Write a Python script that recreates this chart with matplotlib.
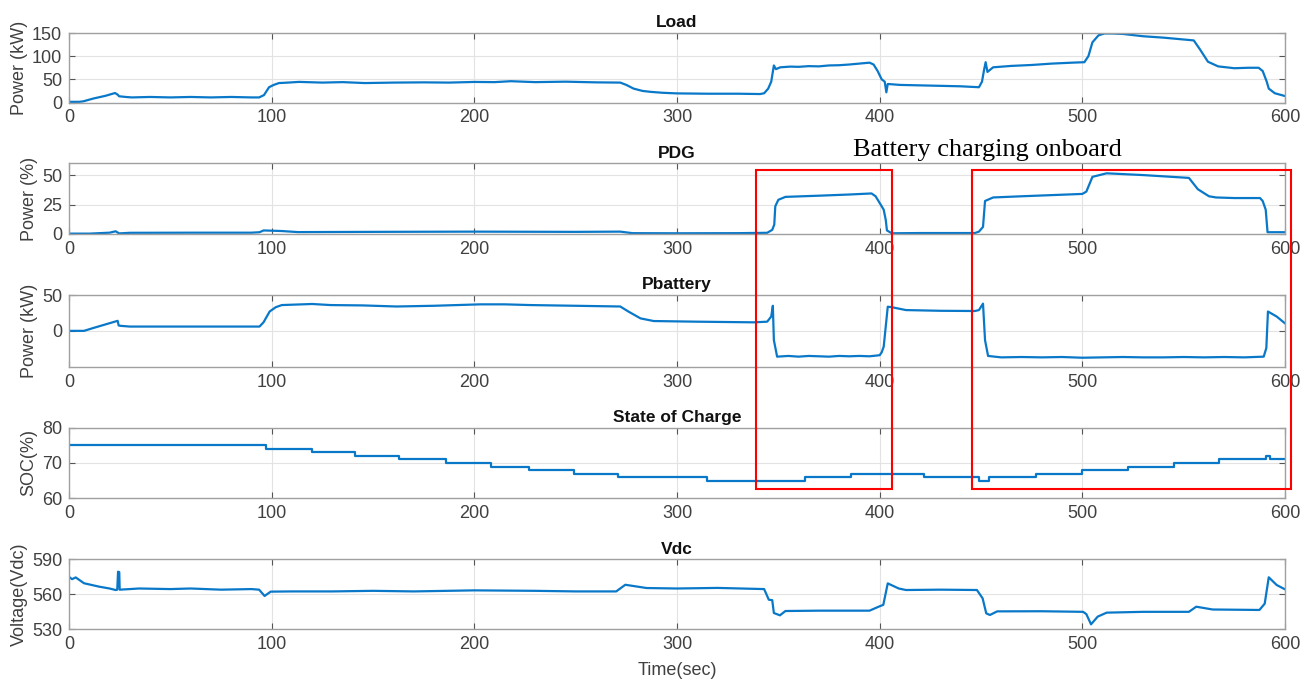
import matplotlib
matplotlib.use('Agg')
import matplotlib.pyplot as plt
from matplotlib.patches import Rectangle

# Values (time in s)
load_t = [0, 5, 7, 12, 18, 22.7, 24, 24.7, 28, 31, 40, 50, 60, 70, 80, 90, 93.8, 96.2, 98.7, 101,
          103.6, 108, 113.5, 125, 135, 146, 160, 175, 187.5, 200, 210, 218, 230, 245, 260, 272, 275,
          278.6, 283, 287, 293, 300, 315, 330, 341, 343, 345, 346.5, 347.8, 348.8, 351, 356, 360, 365,
          370, 375, 380, 385, 390, 395, 397, 399, 401, 402.5, 403.3, 404, 410, 420, 430, 440, 449,
          450.5, 451.5, 452.3, 453.2, 456, 465, 475, 485, 495, 501, 503, 505, 508, 511, 515, 520, 530,
          540, 550, 555, 558, 562, 567, 575, 582, 587, 589, 591, 592, 595, 600]
load_kw = [1.5, 1.5, 2.5, 8.6, 14.5, 20.5, 17, 13.5, 12, 11, 12, 11, 12, 11, 12, 11, 11, 16, 33, 38,
           42, 43, 44.5, 43, 44, 42, 43, 43.5, 43, 44.4, 44, 46, 44, 45, 43.5, 43, 38,
           30, 25, 23, 21, 19.7, 19, 19, 18.3, 20, 30, 45, 80, 72, 76, 77.5, 77, 78.5,
           78, 80, 80.5, 82, 84, 86, 82, 68, 50, 45, 22, 40, 38, 37, 36, 35, 33,
           45, 70, 87, 66, 76, 79, 81, 84, 86, 87, 100, 130, 145, 149, 149, 148, 143,
           140, 136, 134, 115, 88, 78, 74, 75, 75, 68, 45, 30, 20, 14]

pdg_t = [0, 10, 20, 23, 24.7, 30, 60, 90, 94, 96, 100, 105, 113, 150, 200, 250, 272, 278, 300, 330,
         344.5, 347, 348, 348.5, 350, 353.5, 370, 385, 396, 398, 401, 402, 403, 403.6, 406, 420, 447,
         449, 451, 452, 456, 470, 485, 500, 502, 505, 512, 530, 552.6, 557, 562.5, 566, 575, 587.7,
         589, 590.5, 591.4, 600]
pdg_pct = [0.3, 0.3, 1.1, 2.3, 0.5, 1.0, 1.1, 1.1, 1.5, 3, 2.8, 2.5, 1.6, 1.8, 2, 1.8, 2, 0.7, 0.6, 0.7,
           1, 3.5, 8, 23.5, 29, 31.5, 32.5, 33.5, 34.4, 32, 23.5, 20.6, 12, 3, 0.6, 0.8, 0.8,
           2, 6, 28, 31, 32, 33, 34, 36, 48.5, 51.5, 50, 47.6, 38, 32, 31, 30.5, 30.5,
           28, 20.6, 1.5, 1.5]

batt_t = [0, 7.4, 12, 18, 24, 24.5, 25.5, 30, 50, 70, 94, 96, 99, 102, 105, 120, 129, 145, 161.6, 180,
          203, 215, 227.5, 250, 272, 276, 282, 288.5, 310, 338, 344.5, 346.5, 347.3, 347.8, 349.4,
          355, 360, 365, 370, 375, 380, 385, 390, 395, 400, 401, 402, 404, 406, 413, 430, 447, 449,
          451, 452, 453.5, 460, 470, 480, 490, 500, 510, 520, 530, 540, 550, 560, 570, 580, 589.5,
          590.8, 591.6, 595.9, 600]
batt_kw = [0, 0, 4, 9, 14, 7.5, 7, 6, 6, 6, 6, 12, 27, 33, 36, 37.5, 36, 35.5, 34, 35,
           37, 37, 36, 35, 34, 27, 17.4, 13.7, 12.8, 11.9, 12.8, 20, 35, -12.8, -36,
           -35, -36, -35, -35.5, -36, -35, -35.5, -35, -35.5, -34, -30, -22, 33.7, 33, 29, 28, 27.7, 29,
           38, -13, -35, -37, -36.5, -37, -36.5, -37.5, -37, -36.5, -37, -37, -36.5, -37, -36.5, -37, -36,
           -24, 27, 20, 10.5]

soc_t = [0, 97, 120, 141, 163, 186, 208, 227, 249, 271, 315, 363, 386, 422, 449, 454, 477, 500,
         522.5, 545, 567.6, 590.5, 592.5, 600]
soc_pct = [75, 74, 73, 72, 71, 70, 69, 68, 67, 66, 65, 66, 67, 66, 65, 66, 67, 68,
           69, 70, 71, 72, 71, 71]

vdc_t = [0, 1.5, 3.3, 7.4, 14.8, 20, 23, 23.8, 24.2, 24.8, 25, 30, 34.5, 50, 60, 75, 90, 93.8, 96.5,
         99.5, 110, 130, 150, 170, 200, 230, 250, 270, 274.5, 285, 300, 320, 343, 345.3, 347, 347.8,
         350.8, 353.5, 370, 395, 399.5, 401.8, 404, 409.4, 413, 430, 448, 450.8, 452.6, 454.4, 458,
         480, 500.4, 502, 504.3, 507.6, 512, 530, 552.6, 556.2, 564.3, 587.4, 590, 592, 595.9, 600]
vdc_v = [575, 573, 574.5, 569.5, 566.6, 565, 563.7, 564, 579.4, 579, 564, 564.5, 565, 564.5, 565, 564,
         564.5, 564, 558.6, 562.3, 562.5, 562.5, 563, 562.5, 563.4, 563, 562.5, 562.5, 568.2, 565.4,
         565, 565.5, 564.5, 555.4, 555, 544, 542, 545.7, 546, 546, 549.4, 551, 569.4, 565, 563.7,
         564, 563.7, 556.6, 543.7, 542.3, 545.4, 545.5, 545, 543, 534.3, 540.9, 544.3, 545, 545,
         549.4, 547, 546.6, 552, 574.6, 568, 564.3]

LINE_COLOR = '#0A78C8'
TEXT_COLOR = '#404040'

plt.rcParams['font.family'] = ['Liberation Sans', 'DejaVu Sans']


def style_axes(ax, title, ylabel, ylim, yticks):
    ax.set_xlim(0, 600)
    ax.set_ylim(*ylim)
    ax.set_xticks(range(0, 601, 100))
    ax.set_yticks(yticks)
    ax.grid(True, color='#e3e3e3', linewidth=0.8)
    ax.set_axisbelow(True)
    ax.tick_params(direction='in', top=True, right=True, length=4, width=0.8,
                   color='#555555', labelcolor=TEXT_COLOR, labelsize=13, pad=5)
    for sp in ax.spines.values():
        sp.set_color('#a0a0a0')
        sp.set_linewidth(1.0)
    ax.set_title(title, fontsize=12.5, fontweight='bold', color='#111111', pad=4)
    ax.set_ylabel(ylabel, fontsize=13, color=TEXT_COLOR, labelpad=3)


fig = plt.figure(figsize=(13.12, 6.89), dpi=100)

left, width = 0.0526, 0.9268
positions = [0.8512, 0.6604, 0.4678, 0.2768, 0.0866]
heights = [0.1009, 0.1026, 0.1040, 0.1025, 0.1016]
axes = [fig.add_axes([left, y0, width, h]) for y0, h in zip(positions, heights)]

axes[0].plot(load_t, load_kw, color=LINE_COLOR, lw=1.6)
style_axes(axes[0], 'Load', 'Power (kW)', (0, 150), [0, 50, 100, 150])

axes[1].plot(pdg_t, pdg_pct, color=LINE_COLOR, lw=1.6)
style_axes(axes[1], 'PDG', 'Power (%)', (0, 60), [0, 25, 50])

axes[2].plot(batt_t, batt_kw, color=LINE_COLOR, lw=1.6)
style_axes(axes[2], 'Pbattery', 'Power (kW)', (-50, 50), [0, 50])

axes[3].plot(soc_t, soc_pct, color=LINE_COLOR, lw=1.6, drawstyle='steps-post')
style_axes(axes[3], 'State of Charge', 'SOC(%)', (60, 80), [60, 70, 80])

axes[4].plot(vdc_t, vdc_v, color=LINE_COLOR, lw=1.6)
style_axes(axes[4], 'Vdc', 'Voltage(Vdc)', (530, 590), [530, 560, 590])
axes[4].set_xlabel('Time(sec)', fontsize=13, color=TEXT_COLOR, labelpad=6)

# red boxes marking the charging periods
for x0, x1 in [(0.5762, 0.6799), (0.7409, 0.9840)]:
    fig.add_artist(Rectangle((x0, 0.2903), x1 - x0, 0.7533 - 0.2903, transform=fig.transFigure,
                             fill=False, edgecolor='red', linewidth=1.5))

fig.text(0.753, 0.782, 'Battery charging onboard', family=['Liberation Serif', 'DejaVu Serif'],
         fontsize=19, ha='center', va='center', color='black')

fig.savefig('out.png', dpi=100)
